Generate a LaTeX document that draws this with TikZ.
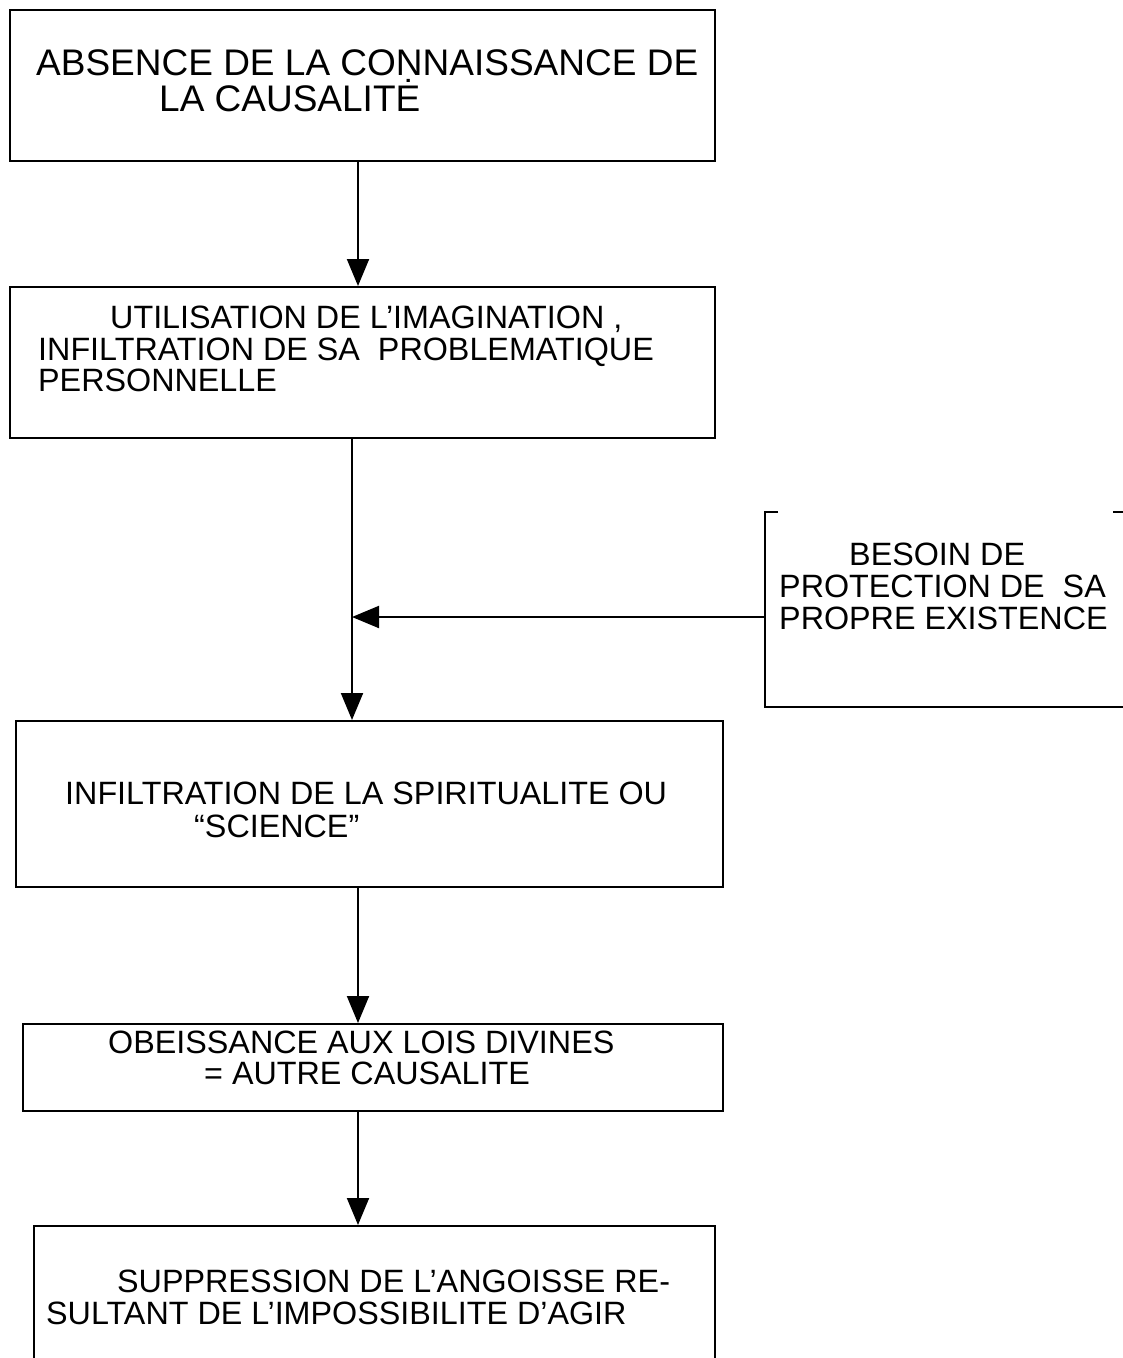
\documentclass[tikz,border=0pt]{standalone}
\usepackage{fontspec}
\setmainfont{Liberation Sans}
\usetikzlibrary{arrows.meta}
\begin{document}
\begin{tikzpicture}[x=1pt,y=-1pt,
  box/.style={draw,line width=2pt,inner sep=0pt,anchor=north west},
  txt/.style={anchor=base west,inner sep=0pt,font=\fontsize{32.3}{33}\selectfont},
  bigtxt/.style={anchor=base west,inner sep=0pt,font=\fontsize{37}{38}\selectfont},
  arr/.style={line width=2pt,-{Triangle[length=27pt,width=22pt]}}]
\clip (0,0) rectangle (1123,1358);
\fill[white] (0,0) rectangle (1123,1358);

% boxes of the main chain
\node[box,minimum width=705pt,minimum height=151pt] (b1) at (9,9) {};
\node[box,minimum width=705pt,minimum height=151pt] (b2) at (9,286) {};
\node[box,minimum width=707pt,minimum height=166pt] (b3) at (15,720) {};
\node[box,minimum width=700pt,minimum height=87pt]  (b4) at (22,1023) {};
\node[box,minimum width=681pt,minimum height=200pt] (b5) at (33,1225) {};

% side box, open at the top and running off to the right
\node[anchor=north west,inner sep=0pt,minimum width=400pt,minimum height=195pt] (rb) at (765,512) {};
\draw[line width=2pt] ([xshift=13pt]rb.north west) -- (rb.north west) -- (rb.south west) -- (rb.south east);
\draw[line width=2pt] ([xshift=-52pt]rb.north east) -- (rb.north east);

% texts
\node[bigtxt] (t1a) at (36,75) {ABSENCE DE LA CONNAISSANCE DE};
\node[bigtxt] (t1b) at (159,111) {LA CAUSALIT\.E};

\node[txt] (t2a) at (110,328) {UTILISATION DE L’IMAGINATION ,};
\node[txt] (t2b) at (38,360) {INFILTRATION DE SA\ \ PROBLEMATIQUE};
\node[txt] (t2c) at (38,391) {PERSONNELLE};

\node[txt] (trA) at (849,565) {BESOIN DE};
\node[txt] (trB) at (779,597) {PROTECTION DE\ \ SA};
\node[txt] (trC) at (779,629) {PROPRE EXISTENCE};

\node[txt] (t3a) at (65,804) {INFILTRATION DE LA SPIRITUALITE OU};
\node[txt] (t3b) at (194,837) {“SCIENCE”};

\node[txt] (t4a) at (108,1053) {OBEISSANCE AUX LOIS DIVINES};
\node[txt] (t4b) at (204,1084) {= AUTRE CAUSALITE};

\node[txt] (t5a) at (117,1292) {SUPPRESSION DE L’ANGOISSE RE-};
\node[txt] (t5b) at (46,1324) {SULTANT DE L’IMPOSSIBILITE D’AGIR};

% connectors
\coordinate (cx) at (358,0);
\coordinate (cy) at (352,0);
\coordinate (hy) at (0,617);
\draw[arr] (b1.south -| cx) -- (b2.north -| cx);
\draw[arr] (b2.south -| cy) -- (b3.north -| cy);
\draw[arr] (rb.west |- hy) -- (cy |- hy);
\draw[arr] (b3.south -| cx) -- (b4.north -| cx);
\draw[arr] (b4.south -| cx) -- (b5.north -| cx);
\end{tikzpicture}
\end{document}
